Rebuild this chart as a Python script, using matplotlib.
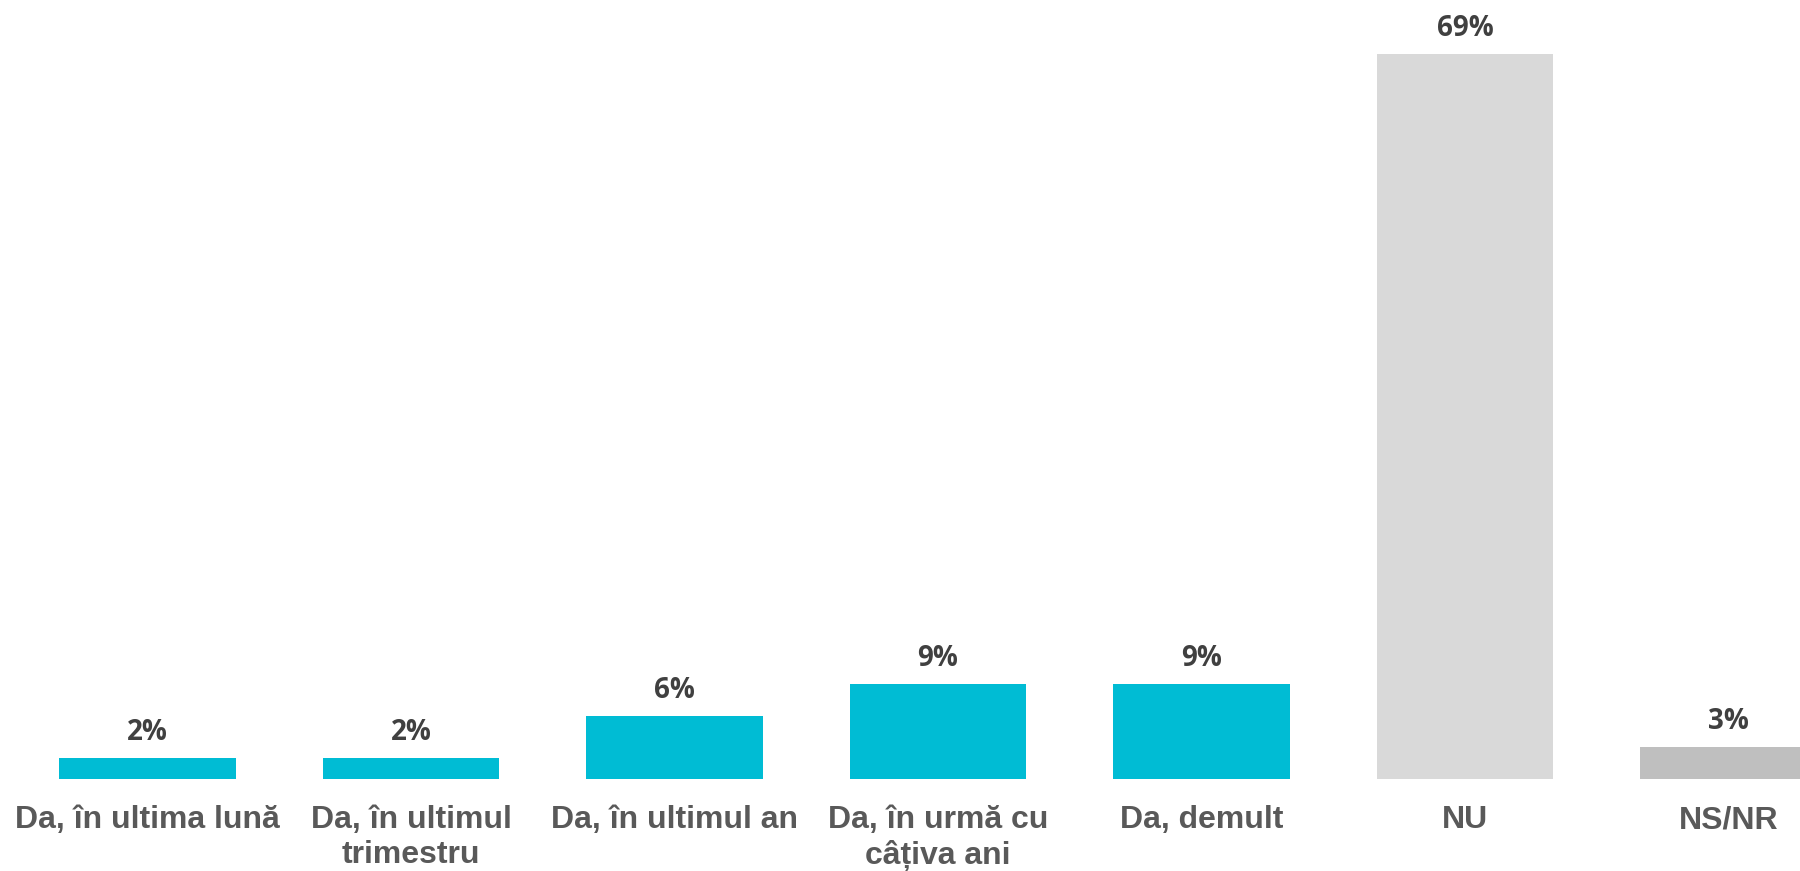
import matplotlib.pyplot as plt

categories = ['Da, în ultima lună', 'Da, în ultimul\ntrimestru', 'Da, în ultimul an',
              'Da, în urmă cu\ncâțiva ani', 'Da, demult', 'NU', 'NS/NR']
values = [2, 2, 6, 9, 9, 69, 3]
colors = ['#00BCD4', '#00BCD4', '#00BCD4', '#00BCD4', '#00BCD4', '#D9D9D9', '#BFBFBF']

fig = plt.figure(figsize=(18, 8.71), dpi=100)
# baseline sits 92 px above the bottom edge, axes run to the top
ax = fig.add_axes([0, (871 - 779) / 871, 1, 779 / 871])

x = list(range(len(categories)))
bars = ax.bar(x, values, width=0.668, color=colors)

for xi, v in zip(x, values):
    ax.annotate('{}%'.format(v), (xi, v), xytext=(0, 13), textcoords='offset points',
                ha='center', va='baseline', fontsize=20, fontweight='bold',
                family='Open Sans', color='#404040')

ax.set_xlim(-147.5 / 263.5, (1800 - 147.5) / 263.5)
ax.set_ylim(0, 779 / 10.51)
ax.set_xticks(x)
ax.set_xticklabels(categories, fontsize=23, fontweight='bold', family='Liberation Sans',
                   color='#595959', linespacing=1.2)
ax.tick_params(axis='x', length=0, pad=19)
ax.set_yticks([])
for s in ax.spines.values():
    s.set_visible(False)

fig.savefig('out.png', dpi=100)
